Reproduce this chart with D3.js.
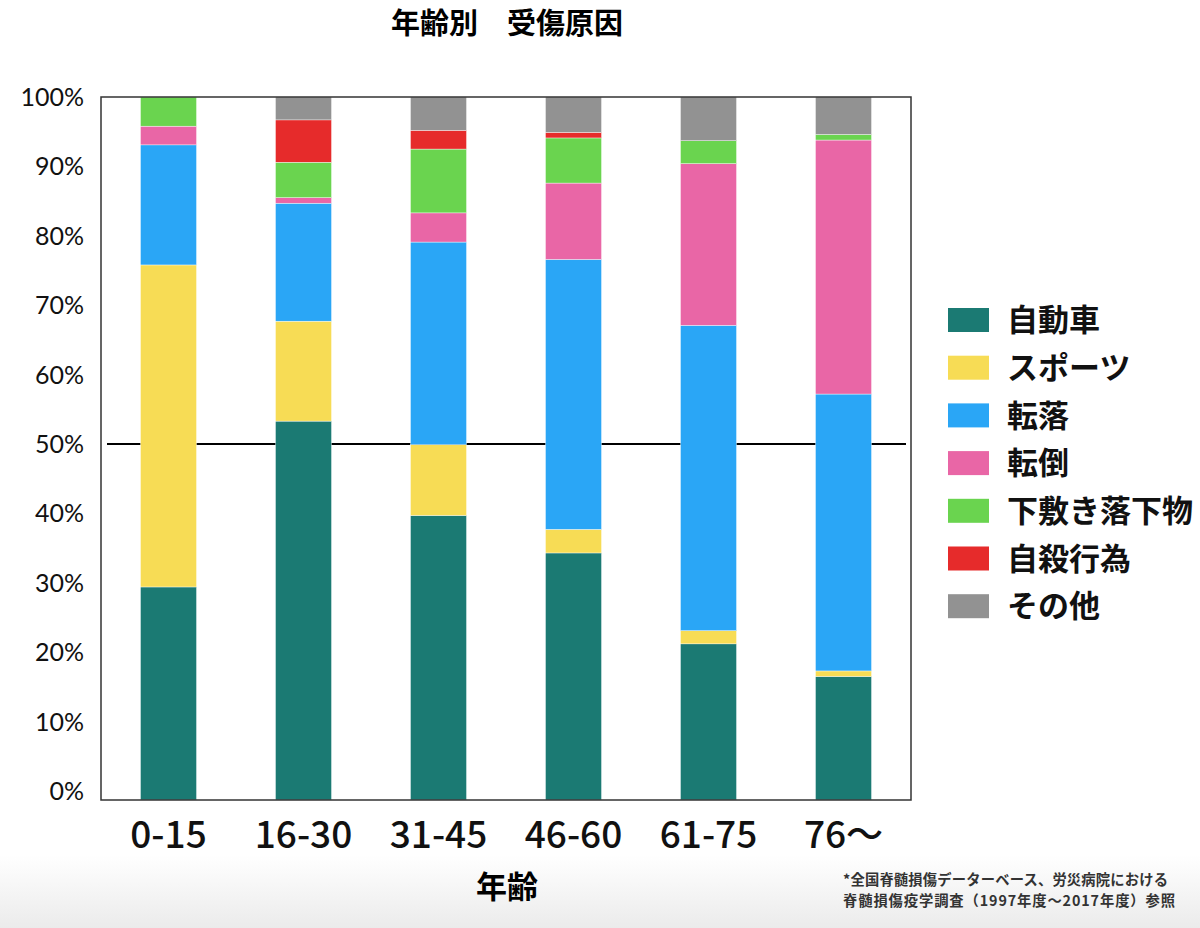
<!DOCTYPE html>
<html>
<head>
<meta charset="utf-8">
<script src="https://cdn.jsdelivr.net/npm/d3@7"></script>
<style>
  body { margin: 0; background: #fff; }
  text { font-family: "Noto Sans CJK JP", "Noto Sans", sans-serif; }
</style>
</head>
<body>
<div id="chart"></div>
<script>
// age groups
var ageGroups = ["0-15", "16-30", "31-45", "46-60", "61-75", "76〜"];

// causes (bottom to top) and their colours
var causes = ["自動車", "スポーツ", "転落", "転倒", "下敷き落下物", "自殺行為", "その他"];
var causeColors = ["#1b7a73", "#f7dc55", "#2aa6f6", "#e966a6", "#6ad44f", "#e62b2b", "#929292"];

// percent per age group, one array per cause
var car     = [29.4, 53.3, 39.7, 34.3, 21.2, 16.5];
var sports  = [46.4, 14.4, 10.2,  3.4,  1.9,  0.8];
var fall    = [17.3, 17.0, 29.2, 38.9, 44.0, 39.9];
var tumble  = [ 2.7,  0.8,  4.2, 11.0, 23.3, 36.6];
var crushed = [ 4.2,  5.1,  9.2,  6.5,  3.3,  0.8];
var suicide = [ 0.0,  6.1,  2.7,  0.8,  0.0,  0.0];
var other   = [ 0.0,  3.3,  4.8,  5.1,  6.3,  5.4];

var yTicks = [0, 10, 20, 30, 40, 50, 60, 70, 80, 90, 100];

var footnote = ["*全国脊髄損傷データーベース、労災病院における",
                "脊髄損傷疫学調査（1997年度〜2017年度）参照"];

var W = 1200, H = 928;
var plotLeft = 101, plotRight = 911, plotTop = 97, frameBottom = 800, zeroY = 791;

var series = [car, sports, fall, tumble, crushed, suicide, other];
var table = ageGroups.map(function(g, i) {
    var row = { group: g };
    causes.forEach(function(c, k) { row[c] = series[k][i]; });
    return row;
});
var stacked = d3.stack().keys(causes)(table);

var svg = d3.select("#chart").append("svg")
    .attr("width", W).attr("height", H);

// faint grey fade at the bottom of the picture
var defs = svg.append("defs");
var grad = defs.append("linearGradient").attr("id", "fade")
    .attr("x1", 0).attr("y1", 0).attr("x2", 0).attr("y2", 1);
grad.append("stop").attr("offset", "0%").attr("stop-color", "#ffffff");
grad.append("stop").attr("offset", "100%").attr("stop-color", "#ebebeb");
svg.append("rect").attr("x", 0).attr("y", 0).attr("width", W).attr("height", H).attr("fill", "#fff");
svg.append("rect").attr("x", 0).attr("y", 855).attr("width", W).attr("height", H - 855).attr("fill", "url(#fade)");

var x = d3.scaleBand().domain(ageGroups).range([plotLeft, plotRight])
    .paddingInner(0.585).paddingOuter(0.2925);
var y = d3.scaleLinear().domain([0, 100]).range([zeroY, plotTop]);
var color = d3.scaleOrdinal().domain(causes).range(causeColors);

// 50% reference line
svg.append("line")
    .attr("x1", plotLeft + 6).attr("x2", plotRight - 5)
    .attr("y1", y(50)).attr("y2", y(50))
    .attr("stroke", "#000").attr("stroke-width", 2.2);

// stacked bars
svg.append("g").selectAll("g")
    .data(stacked)
    .enter().append("g")
    .attr("fill", function(d) { return color(d.key); })
    .selectAll("rect")
    .data(function(d) { return d; })
    .enter().append("rect")
    .attr("x", function(d) { return x(d.data.group); })
    .attr("width", x.bandwidth())
    .attr("y", function(d) { return y(d[1]); })
    .attr("height", function(d) {
        var base = d[0] === 0 ? frameBottom : y(d[0]);
        return Math.max(0, base - y(d[1]));
    })
    .attr("stroke", "#fff").attr("stroke-width", 0.4);

// frame
svg.append("rect")
    .attr("x", plotLeft).attr("y", plotTop)
    .attr("width", plotRight - plotLeft).attr("height", frameBottom - plotTop)
    .attr("fill", "none").attr("stroke", "#333").attr("stroke-width", 1.5);

// y tick labels
svg.append("g").selectAll("text")
    .data(yTicks)
    .enter().append("text")
    .attr("x", 84)
    .attr("y", function(d) { return y(d); })
    .attr("dy", "0.36em")
    .attr("text-anchor", "end")
    .style("font-family", "Lato, 'Open Sans', sans-serif")
    .style("font-size", "25px")
    .attr("fill", "#111")
    .text(function(d) { return d + "%"; });

// x tick labels
svg.append("g").selectAll("text")
    .data(ageGroups)
    .enter().append("text")
    .attr("x", function(d) { return x(d) + x.bandwidth() / 2; })
    .attr("y", 835)
    .attr("dy", "0.36em")
    .attr("text-anchor", "middle")
    .style("font-size", "37px")
    .style("font-weight", 500)
    .attr("fill", "#111")
    .text(function(d) { return d; });

// titles
svg.append("text")
    .attr("x", 507).attr("y", 24).attr("dy", "0.36em")
    .attr("text-anchor", "middle")
    .style("font-size", "29px").style("font-weight", 700)
    .text("年齢別　受傷原因");

svg.append("text")
    .attr("x", 507).attr("y", 887).attr("dy", "0.36em")
    .attr("text-anchor", "middle")
    .style("font-size", "31px").style("font-weight", 700)
    .text("年齢");

// legend
var legend = svg.append("g").selectAll("g")
    .data(causes)
    .enter().append("g")
    .attr("transform", function(d, i) { return "translate(948," + (320 + i * 47.7) + ")"; });
legend.append("rect")
    .attr("x", 0).attr("y", -12).attr("width", 41).attr("height", 24)
    .attr("fill", function(d) { return color(d); });
legend.append("text")
    .attr("x", 59).attr("y", 0).attr("dy", "0.36em")
    .style("font-size", "31px").style("font-weight", 700)
    .attr("fill", "#111")
    .text(function(d) { return d; });

// footnote
svg.append("g").selectAll("text")
    .data(footnote)
    .enter().append("text")
    .attr("x", 843)
    .attr("y", function(d, i) { return 880 + i * 21; })
    .attr("dy", "0.36em")
    .attr("textLength", function(d, i) { return i === 0 ? 325 : 332; })
    .attr("lengthAdjust", "spacing")
    .style("font-size", "14.3px").style("font-weight", 700)
    .attr("fill", "#333")
    .text(function(d) { return d; });
</script>
</body>
</html>
